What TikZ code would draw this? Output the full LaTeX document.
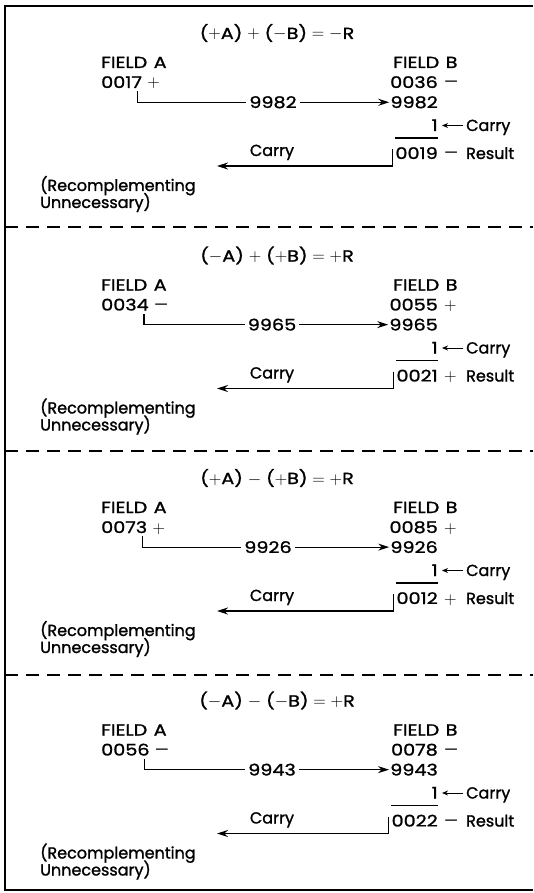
\documentclass[tikz,border=0pt]{standalone}
\usepackage{fontspec}
\setmainfont{Poppins}[FakeBold=1.3]
\newfontfamily\wideF{Poppins}[FakeBold=1.3,FakeStretch=1.2]
\newfontfamily\thinF{Poppins}
\newcommand{\op}[1]{\hspace{0.3em}$#1$\hspace{0.3em}}
\newcommand{\mn}{{\thinF\raisebox{0.5pt}{—}}}
\usetikzlibrary{arrows.meta}
\begin{document}
\begin{tikzpicture}[x=1pt,y=-1pt,
  txt/.style={inner sep=0pt, font=\fontsize{16}{18}\selectfont},
  wtxt/.style={inner sep=0pt, font=\fontsize{16}{18}\selectfont\wideF},
  conn/.style={line width=1.2pt},
  arr/.style={conn,-{Stealth[length=11pt,width=7pt]}},
  sarr/.style={line width=1pt,-{Stealth[length=6pt,width=5pt]}},
  sepline/.style={line width=1.2pt,dash pattern=on 13pt off 8pt},
  framel/.style={line width=1.5pt}]
\useasboundingbox (0,0) rectangle (533,893);
\draw[framel] (533,6) -- (5,6) -- (5,890) -- (533,890);
\foreach \yy in {227,451,675} \draw[sepline] (5,\yy) -- (533,\yy);
\foreach \k/\ttl/\va/\sa/\vb/\sb/\cmp/\res/\sr/\lx in {
 1/{($+$A)\op{+}($-$B)\op{=}$-$R}/0017/{$+$}/0036/{\mn}/9982/0019/{\mn}/273,
 2/{($-$A)\op{+}($+$B)\op{=}$+$R}/0034/{\mn}/0055/{$+$}/9965/0021/{$+$}/272,
 3/{($+$A)\op{-}($+$B)\op{=}$+$R}/0073/{$+$}/0085/{$+$}/9926/0012/{$+$}/268,
 4/{($-$A)\op{-}($-$B)\op{=}$+$R}/0056/{\mn}/0078/{\mn}/9943/0022/{\mn}/272}{
 \pgfmathsetmacro\oy{(\k-1)*222.5}
 \node[wtxt,anchor=base] (t\k) at (277,39+\oy) {\ttl};
 \node[wtxt,anchor=base west] (fa\k) at (101,68+\oy) {FIELD\hspace{0.4em}A};
 \node[wtxt,anchor=base west] (va\k) at (101,88+\oy) {\va};
 \node[wtxt,anchor=base west] (sa\k) at ([xshift=5pt]va\k.base east) {\sa};
 \node[wtxt,anchor=base west] (fb\k) at (393,68+\oy) {FIELD\hspace{0.4em}B};
 \node[wtxt,anchor=base east] (vb\k) at (438,88+\oy) {\vb};
 \node[wtxt,anchor=base west] (sb\k) at (444,88+\oy) {\sb};
 \node[wtxt,anchor=base east] (cb\k) at (438,108+\oy) {\cmp};
 \node[wtxt,anchor=base] (cl\k) at (\lx,108+\oy) {\cmp};
 \node[wtxt,anchor=base east] (one\k) at (438,131+\oy) {1};
 \node[txt,anchor=base west] (ca\k) at (466,131+\oy) {Carry};
 \node[wtxt,anchor=base east] (r\k) at (438,159+\oy) {\res};
 \node[wtxt,anchor=base west] (sr\k) at (444,159+\oy) {\sr};
 \node[txt,anchor=base west] (rl\k) at (466,159+\oy) {Result};
 \node[txt,anchor=base] (cc\k) at (272,156+\oy) {Carry};
 \node[txt,anchor=base west] (rc\k) at (40,191+\oy) {(Recomplementing};
 \node[txt,anchor=base west] (un\k) at (40,208+\oy) {Unnecessary)};
 \coordinate (tip\k) at (217,166+\oy);
 \draw[conn] ([xshift=-5pt,yshift=-3pt]va\k.south east) |- ([xshift=-3pt]cl\k.west);
 \draw[arr] ([xshift=3pt]cl\k.east) -- ([xshift=-1pt]cb\k.west);
 \draw[sarr] ([xshift=-3pt,yshift=5.5pt]ca\k.base west) -- ([xshift=4pt,yshift=5.5pt]one\k.base east);
 \draw[conn] ([yshift=9pt]r\k.north west) -- ([yshift=9pt]r\k.north east);
 \draw[arr] ([xshift=-3pt,yshift=-2pt]r\k.north west) |- (tip\k);
}
\end{tikzpicture}
\end{document}
